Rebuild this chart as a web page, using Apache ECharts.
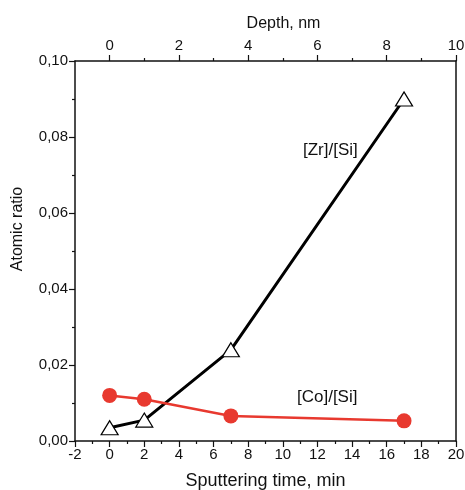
<!DOCTYPE html>
<html>
<head>
<meta charset="utf-8">
<script src="https://cdn.jsdelivr.net/npm/echarts@6/dist/echarts.min.js"></script>
<style>
  html, body { margin: 0; padding: 0; background: #fff; }
  #main { width: 465px; height: 490px; }
</style>
</head>
<body>
<div id="main"></div>
<script>
// sputtering time (min)
const times = [0, 2, 7, 17];
const zrSi = [0.0035, 0.0055, 0.024, 0.090];
const coSi = [0.012, 0.011, 0.0066, 0.0053];
// top axis: depth in nm = time / 2
const depthMajor = [0, 2, 4, 6, 8, 10];
const depthMinor = [1, 3, 5, 7, 9];

const font = 'Liberation Sans, Arial, sans-serif';

let chartDom = document.getElementById('main');
let myChart = echarts.init(chartDom);
let option;

const fmtY = function (v) {
  return v.toFixed(2).replace('.', ',');
};

option = {
  animation: false,
  grid: { left: 75, right: 9, top: 61, bottom: 49, outerBoundsMode: 'none', containLabel: false },
  xAxis: [
    {
      type: 'value',
      position: 'bottom',
      min: -2,
      max: 20,
      interval: 2,
      name: 'Sputtering time, min',
      nameLocation: 'middle',
      nameGap: 31,
      nameTextStyle: { fontFamily: font, fontSize: 18, color: '#111' },
      axisLine: { onZero: false, lineStyle: { color: '#111', width: 1.5 } },
      axisTick: { inside: false, length: 6, lineStyle: { color: '#111', width: 1.2 } },
      minorTick: { show: true, splitNumber: 2, length: 3, lineStyle: { color: '#111', width: 1.2 } },
      axisLabel: { fontFamily: font, fontSize: 15, color: '#111', margin: 6 },
      splitLine: { show: false }
    },
    {
      type: 'value',
      position: 'top',
      min: -1,
      max: 10,
      name: 'Depth, nm',
      nameLocation: 'middle',
      nameGap: 29,
      nameTextStyle: { fontFamily: font, fontSize: 16, color: '#111', padding: [0, 0, 0, 36] },
      axisLine: { onZero: false, lineStyle: { color: '#111', width: 1.5 } },
      axisTick: { length: 6, customValues: depthMajor, lineStyle: { color: '#111', width: 1.2 } },
      axisLabel: { fontFamily: font, fontSize: 15, color: '#111', margin: 8, customValues: depthMajor },
      splitLine: { show: false }
    },
    {
      type: 'value',
      position: 'top',
      min: -1,
      max: 10,
      axisLine: { show: false, onZero: false },
      axisTick: { length: 3, customValues: depthMinor, lineStyle: { color: '#111', width: 1.2 } },
      axisLabel: { show: false },
      splitLine: { show: false }
    }
  ],
  yAxis: [
    {
      type: 'value',
      position: 'left',
      min: 0,
      max: 0.1,
      interval: 0.02,
      name: 'Atomic ratio',
      nameLocation: 'middle',
      nameGap: 49,
      nameTextStyle: { fontFamily: font, fontSize: 16, color: '#111', padding: [0, 0, 0, 44] },
      axisLine: { show: true, onZero: false, lineStyle: { color: '#111', width: 1.5 } },
      axisTick: { show: true, length: 6, lineStyle: { color: '#111', width: 1.2 } },
      minorTick: { show: true, splitNumber: 2, length: 3, lineStyle: { color: '#111', width: 1.2 } },
      axisLabel: { fontFamily: font, fontSize: 15, color: '#111', margin: 7, formatter: fmtY },
      splitLine: { show: false }
    },
    {
      type: 'value',
      position: 'right',
      min: 0,
      max: 0.1,
      axisLine: { show: true, onZero: false, lineStyle: { color: '#111', width: 1.5 } },
      axisTick: { show: false },
      axisLabel: { show: false },
      splitLine: { show: false }
    }
  ],
  series: [
    {
      name: '[Zr]/[Si]',
      type: 'line',
      xAxisIndex: 0,
      yAxisIndex: 0,
      data: times.map((t, i) => [t, zrSi[i]]),
      symbol: 'triangle',
      symbolSize: [17, 14],
      lineStyle: { color: '#000', width: 3 },
      itemStyle: { color: '#fff', borderColor: '#000', borderWidth: 1.2 },
      z: 2
    },
    {
      name: '[Co]/[Si]',
      type: 'line',
      xAxisIndex: 0,
      yAxisIndex: 0,
      data: times.map((t, i) => [t, coSi[i]]),
      symbol: 'circle',
      symbolSize: 15,
      lineStyle: { color: '#e8392f', width: 2.5 },
      itemStyle: { color: '#e8392f', borderWidth: 0 },
      z: 3
    }
  ],
  graphic: [
    {
      type: 'text',
      left: 303,
      top: 142,
      style: { text: '[Zr]/[Si]', fontFamily: font, fontSize: 17, fill: '#111' }
    },
    {
      type: 'text',
      left: 297,
      top: 389,
      style: { text: '[Co]/[Si]', fontFamily: font, fontSize: 17, fill: '#111' }
    }
  ]
};

option && myChart.setOption(option);
</script>
</body>
</html>
